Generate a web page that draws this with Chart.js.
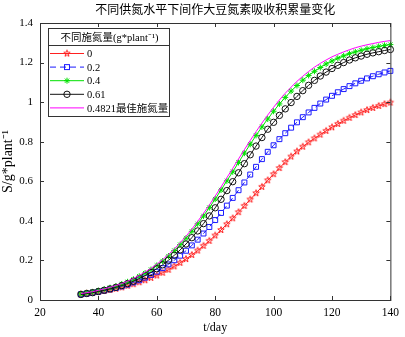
<!DOCTYPE html>
<html>
<head>
<meta charset="utf-8">
<script src="https://cdn.jsdelivr.net/npm/chart.js@4/dist/chart.umd.min.js"></script>
<style>
  html, body { margin: 0; padding: 0; background: #fff; }
</style>
</head>
<body>
<canvas id="chart" width="405" height="337"></canvas>
<script>
// sampling days (one marker every 2 days)
const days = [34,36,38,40,42,44,46,48,50,52,54,56,58,60,62,64,66,68,70,72,74,76,78,80,82,84,86,88,
  90,92,94,96,98,100,102,104,106,108,110,112,114,116,118,120,122,124,126,128,130,132,134,136,138,140];

// N uptake accumulation, S / g*plant^-1, per nitrogen rate
const n0 = [0.029,0.032,0.036,0.041,0.046,0.051,0.057,0.064,0.072,0.080,0.090,0.100,0.112,0.124,0.138,0.153,
  0.170,0.188,0.207,0.228,0.250,0.274,0.299,0.326,0.354,0.383,0.413,0.444,0.476,0.508,0.540,0.572,0.605,0.636,
  0.667,0.697,0.725,0.751,0.775,0.797,0.817,0.836,0.855,0.873,0.890,0.906,0.921,0.935,0.948,0.960,0.971,0.981,0.990,0.998];
const n02 = [0.029,0.032,0.037,0.042,0.048,0.054,0.061,0.069,0.078,0.089,0.100,0.113,0.127,0.143,0.161,0.180,
  0.201,0.224,0.249,0.276,0.305,0.336,0.369,0.404,0.440,0.477,0.516,0.555,0.594,0.634,0.673,0.712,0.749,0.782,
  0.813,0.843,0.871,0.898,0.924,0.948,0.971,0.993,1.013,1.032,1.050,1.066,1.081,1.095,1.108,1.120,1.131,1.141,1.150,1.158];
const n04 = [0.031,0.036,0.041,0.047,0.054,0.062,0.070,0.081,0.092,0.105,0.120,0.136,0.154,0.175,0.197,0.222,
  0.250,0.280,0.312,0.347,0.385,0.425,0.467,0.510,0.556,0.602,0.648,0.695,0.742,0.787,0.832,0.875,0.915,0.954,
  0.991,1.024,1.056,1.084,1.111,1.135,1.156,1.175,1.193,1.208,1.222,1.234,1.245,1.254,1.262,1.270,1.276,1.282,1.287,1.291];
const n061 = [0.028,0.033,0.037,0.043,0.049,0.056,0.064,0.073,0.083,0.095,0.108,0.123,0.139,0.158,0.178,0.201,
  0.226,0.253,0.283,0.315,0.349,0.386,0.425,0.466,0.509,0.553,0.598,0.643,0.689,0.734,0.778,0.821,0.863,0.898,
  0.933,0.966,0.998,1.029,1.058,1.085,1.110,1.132,1.152,1.170,1.186,1.200,1.213,1.224,1.233,1.242,1.249,1.255,1.261,1.266];
const nBest = [0.032,0.037,0.042,0.049,0.056,0.064,0.073,0.083,0.095,0.109,0.124,0.141,0.160,0.181,0.204,0.230,
  0.258,0.289,0.322,0.358,0.397,0.438,0.480,0.525,0.571,0.618,0.665,0.713,0.760,0.806,0.851,0.894,0.935,0.974,
  1.011,1.045,1.076,1.105,1.131,1.155,1.177,1.196,1.213,1.229,1.242,1.254,1.265,1.275,1.283,1.290,1.296,1.302,1.307,1.311];

const seriesLabels = ["0", "0.2", "0.4", "0.61", "0.4821最佳施氮量"];
const xTicks = [20, 40, 60, 80, 100, 120, 140];
const yTicks = [0, 0.2, 0.4, 0.6, 0.8, 1.0, 1.2, 1.4];
const chartTitle = "不同供氮水平下间作大豆氮素吸收积累量变化";
const legendTitle = "不同施氮量(g*plant⁻¹)";

const FONT = "'Liberation Serif', 'Times New Roman', 'Noto Sans CJK SC', serif";

// MATLAB-like pentagram marker
function pentagram(color, r) {
  const s = Math.ceil(r * 2 + 3);
  const c = document.createElement("canvas");
  c.width = s; c.height = s;
  const g = c.getContext("2d");
  g.strokeStyle = color;
  g.lineWidth = 1;
  g.beginPath();
  for (let i = 0; i < 10; i++) {
    const a = -Math.PI / 2 + i * Math.PI / 5;
    const rr = i % 2 ? r * 0.42 : r;
    g.lineTo(s / 2 + rr * Math.cos(a), s / 2 + rr * Math.sin(a));
  }
  g.closePath();
  g.stroke();
  return c;
}
const starRed = pentagram("#ff2020", 3.4);

const pts = arr => arr.map((v, i) => ({ x: days[i], y: v }));

const sets = [
  { label: seriesLabels[0], data: pts(n0), borderColor: "#ff2020", pointStyle: starRed, pointRadius: 3.4, order: 5 },
  { label: seriesLabels[1], data: pts(n02), borderColor: "#1a1aff", borderDash: [6, 4], pointStyle: "rect", pointRadius: 3.5, order: 4 },
  { label: seriesLabels[2], data: pts(n04), borderColor: "#00e000", pointStyle: "star", pointRadius: 3, order: 3 },
  { label: seriesLabels[3], data: pts(n061), borderColor: "#111", pointStyle: "circle", pointRadius: 3.2, order: 2 },
  { label: seriesLabels[4], data: pts(nBest), borderColor: "#ff00ff", pointStyle: "circle", pointRadius: 0, order: 1 }
].map(d => Object.assign({
  borderWidth: 1,
  pointBorderColor: d.borderColor,
  pointBackgroundColor: "rgba(0,0,0,0)",
  pointBorderWidth: 1,
  tension: 0,
  fill: false,
  clip: 8
}, d));

function drawMarker(ctx, d, x, y) {
  ctx.save();
  ctx.strokeStyle = d.borderColor;
  ctx.lineWidth = 1;
  ctx.setLineDash([]);
  const r = d.pointRadius;
  if (d.pointStyle instanceof HTMLCanvasElement) {
    ctx.drawImage(d.pointStyle, x - d.pointStyle.width / 2, y - d.pointStyle.height / 2);
  } else if (d.pointStyle === "rect" && r) {
    const h = r * Math.SQRT1_2;
    ctx.strokeRect(x - h, y - h, 2 * h, 2 * h);
  } else if (d.pointStyle === "star") {
    ctx.beginPath();
    for (let k = 0; k < 4; k++) {
      const a = k * Math.PI / 4;
      ctx.moveTo(x - r * Math.cos(a), y - r * Math.sin(a));
      ctx.lineTo(x + r * Math.cos(a), y + r * Math.sin(a));
    }
    ctx.stroke();
  } else if (r) {
    ctx.beginPath();
    ctx.arc(x, y, r, 0, Math.PI * 2);
    ctx.stroke();
  }
  ctx.restore();
}

const decor = {
  id: "decor",
  afterDatasetsDraw(chart) {
    const { ctx, chartArea: a, scales: { x, y } } = chart;
    ctx.save();
    // axes box and inward ticks
    ctx.strokeStyle = "#333";
    ctx.lineWidth = 1;
    ctx.strokeRect(a.left + 0.5, a.top + 0.5, a.right - a.left, a.bottom - a.top);
    ctx.beginPath();
    xTicks.forEach(v => {
      const px = Math.round(x.getPixelForValue(v)) + 0.5;
      ctx.moveTo(px, a.bottom); ctx.lineTo(px, a.bottom - 4);
      ctx.moveTo(px, a.top); ctx.lineTo(px, a.top + 4);
    });
    yTicks.forEach(v => {
      const py = Math.round(y.getPixelForValue(v)) + 0.5;
      ctx.moveTo(a.left, py); ctx.lineTo(a.left + 4, py);
      ctx.moveTo(a.right, py); ctx.lineTo(a.right - 4, py);
    });
    ctx.stroke();

    // title
    ctx.fillStyle = "#000";
    ctx.font = "12px " + FONT;
    ctx.textAlign = "center";
    ctx.textBaseline = "middle";
    ctx.fillText(chartTitle, (a.left + a.right) / 2, 11);

    // legend box
    const L = 48, R = 169, T = 28, B = 116;
    ctx.fillStyle = "#fff";
    ctx.fillRect(L, T, R - L, B - T);
    ctx.strokeStyle = "#333";
    ctx.strokeRect(L + 0.5, T + 0.5, R - L, B - T);
    ctx.beginPath();
    ctx.moveTo(L, 45.5); ctx.lineTo(R, 45.5);
    ctx.stroke();
    ctx.fillStyle = "#000";
    ctx.font = "10.5px " + FONT;
    ctx.fillText(legendTitle, (L + R) / 2 + 1, 38);
    ctx.textAlign = "left";
    sets.forEach((d, i) => {
      const yy = 53.5 + i * 13.6;
      ctx.save();
      ctx.strokeStyle = d.borderColor;
      ctx.lineWidth = 1;
      ctx.setLineDash(d.borderDash || []);
      ctx.beginPath();
      ctx.moveTo(50, yy); ctx.lineTo(84, yy);
      ctx.stroke();
      ctx.restore();
      drawMarker(ctx, d, 67, yy);
      ctx.fillStyle = "#000";
      ctx.fillText(d.label, 87, yy + 1);
    });
    ctx.restore();
  }
};

new Chart(document.getElementById("chart"), {
  type: "line",
  data: { datasets: sets },
  options: {
    responsive: false,
    animation: false,
    layout: { padding: { top: 23, right: 11, left: 0, bottom: 0 } },
    plugins: {
      legend: { display: false },
      title: { display: false },
      tooltip: { enabled: false }
    },
    scales: {
      x: {
        type: "linear",
        min: 20, max: 140,
        grid: { display: false, drawTicks: false },
        border: { display: false },
        afterFit: s => { s.height = 37; },
        afterBuildTicks: s => { s.ticks = xTicks.map(v => ({ value: v })); },
        ticks: { color: "#000", padding: 6, font: { family: FONT, size: 11.5 } },
        title: { display: true, text: "t/day", color: "#000", padding: { top: 0, bottom: 2 }, font: { family: FONT, size: 12 } }
      },
      y: {
        min: 0, max: 1.4,
        grid: { display: false, drawTicks: false },
        border: { display: false },
        afterFit: s => { s.width = 40; },
        afterBuildTicks: s => { s.ticks = yTicks.map(v => ({ value: v })); },
        ticks: { color: "#000", padding: 7, font: { family: FONT, size: 11 }, callback: v => String(+v.toFixed(1)) },
        title: { display: true, text: "S/g*plant⁻¹", color: "#000", padding: { top: 0, bottom: 4 }, font: { family: FONT, size: 14 } }
      }
    }
  },
  plugins: [decor]
});
</script>
</body>
</html>
